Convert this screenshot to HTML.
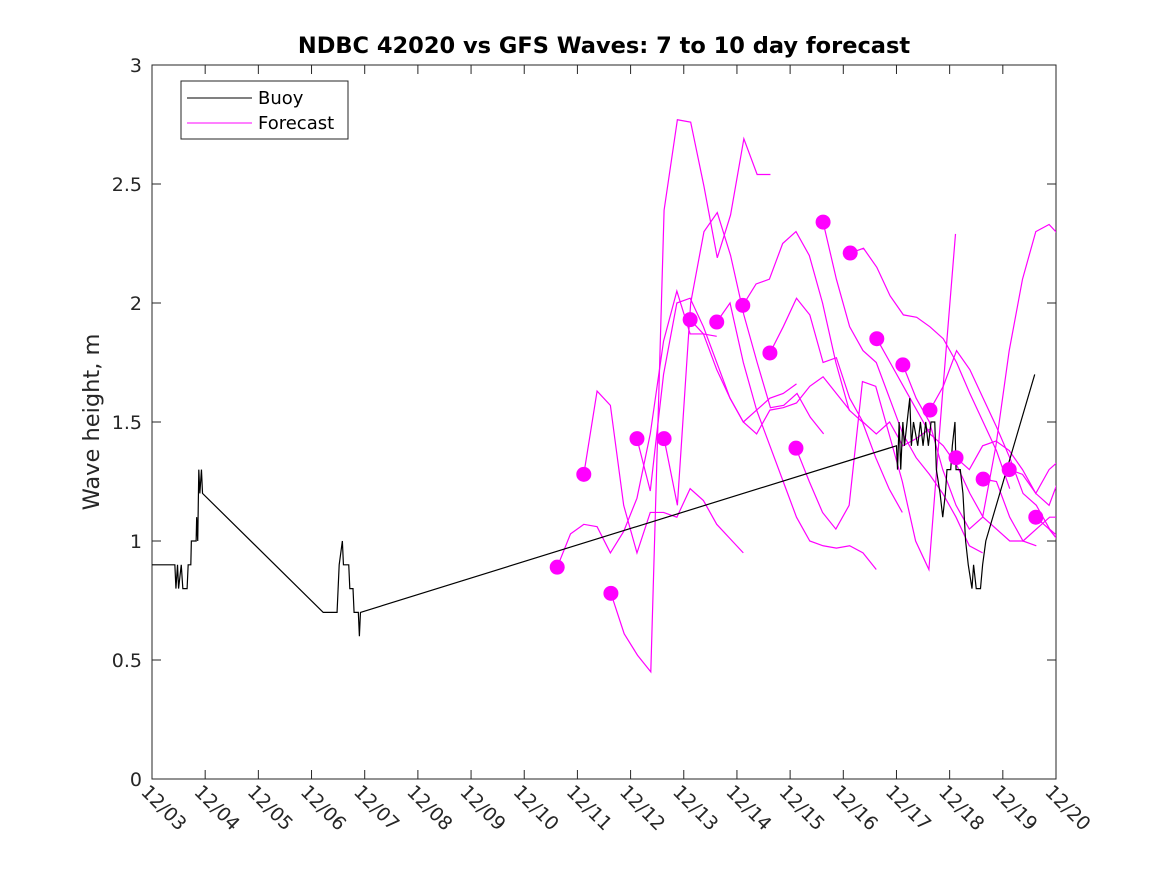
<!DOCTYPE html>
<html><head><meta charset="utf-8"><style>
body{margin:0;background:#fff;}
svg{display:block;font-family:"DejaVu Sans","Liberation Sans",sans-serif;}
</style></head><body>
<svg id="chart" width="1167" height="875">
<rect x="0" y="0" width="1167" height="875" fill="#fff"/>
<defs><clipPath id="plotclip"><rect x="152" y="65" width="904" height="714"/></clipPath></defs>
<text x="604" y="53" text-anchor="middle" font-size="22.5" font-weight="bold" fill="#000">NDBC 42020 vs GFS Waves: 7 to 10 day forecast</text>
<text transform="translate(99,422) rotate(-90)" text-anchor="middle" font-size="22.5" fill="#262626">Wave height, m</text>
<g id="axes"></g>
<g id="series" clip-path="url(#plotclip)"></g>
<g>
<rect x="181" y="81" width="167" height="58" fill="#fff" stroke="#262626" stroke-width="1"/>
<line x1="187" y1="98" x2="252" y2="98" stroke="#000" stroke-width="1"/>
<text x="258" y="104" font-size="18" fill="#000">Buoy</text>
<line x1="187" y1="123" x2="252" y2="123" stroke="#f0f" stroke-width="1"/>
<text x="258" y="129" font-size="18" fill="#000">Forecast</text>
</g>
</svg>
<script>
const xTickLabels=["12/03","12/04","12/05","12/06","12/07","12/08","12/09","12/10","12/11","12/12","12/13","12/14","12/15","12/16","12/17","12/18","12/19","12/20"];
const yTicks=[0,0.5,1,1.5,2,2.5,3];
const buoyDays=[0,0.43,0.45,0.48,0.5,0.55,0.58,0.66,0.68,0.73,0.74,0.83,0.84,0.86,0.88,0.9,0.93,0.95,3.22,3.48,3.5,3.52,3.58,3.6,3.7,3.72,3.78,3.8,3.88,3.9,3.92,14.0,14.02,14.05,14.08,14.12,14.15,14.2,14.25,14.28,14.32,14.4,14.45,14.5,14.55,14.6,14.65,14.72,14.75,14.82,14.87,14.92,14.95,15.02,15.05,15.1,15.12,15.2,15.25,15.3,15.35,15.42,15.45,15.5,15.58,15.62,15.68,16.6];
const buoyVals=[0.9,0.9,0.8,0.9,0.8,0.9,0.8,0.8,0.9,0.9,1.0,1.0,1.1,1.0,1.3,1.2,1.3,1.2,0.7,0.7,0.8,0.9,1.0,0.9,0.9,0.8,0.8,0.7,0.7,0.6,0.7,1.4,1.3,1.5,1.3,1.5,1.4,1.5,1.6,1.4,1.5,1.4,1.5,1.4,1.5,1.4,1.5,1.5,1.3,1.2,1.1,1.2,1.3,1.3,1.4,1.5,1.3,1.3,1.2,1.0,0.9,0.8,0.9,0.8,0.8,0.9,1.0,1.7];
const fcStartDays=[7.62,8.12,8.63,9.12,9.63,10.12,10.62,11.11,11.62,12.11,12.62,13.13,13.63,14.12,14.63,15.12,15.63,16.12,16.62];
const fcStep=0.25;
const fcVals=[
[0.89,1.03,1.07,1.06,0.95,1.04,1.18,1.45,1.84,2.05,1.87,1.87,1.86],
[1.28,1.63,1.57,1.15,0.95,1.12,1.12,1.10,1.22,1.17,1.07,1.01,0.95],
[0.78,0.61,0.52,0.45,2.39,2.77,2.76,2.49,2.19,2.37,2.69,2.54,2.54],
[1.43,1.21,1.7,2.0,2.02,1.9,1.75,1.6,1.5,1.55,1.6,1.62,1.66],
[1.43,1.15,2.0,2.3,2.38,2.2,1.95,1.75,1.56,1.57,1.62,1.52,1.45],
[1.93,1.87,1.72,1.6,1.5,1.45,1.55,1.56,1.58,1.65,1.69,1.62,1.55],
[1.92,2.0,1.75,1.55,1.4,1.25,1.1,1.0,0.98,0.97,0.98,0.95,0.88],
[1.99,2.08,2.1,2.25,2.3,2.2,2.0,1.75,1.55,1.5,1.35,1.22,1.12],
[1.79,1.9,2.02,1.95,1.75,1.77,1.6,1.5,1.45,1.5,1.4,1.43,1.47],
[1.39,1.25,1.12,1.05,1.15,1.67,1.65,1.45,1.25,1.0,0.88,1.6,2.29],
[2.34,2.1,1.9,1.8,1.75,1.6,1.45,1.35,1.28,1.2,1.1,0.98,0.95],
[2.21,2.23,2.15,2.03,1.95,1.94,1.90,1.85,1.75,1.62,1.5,1.38,1.22],
[1.85,1.75,1.65,1.55,1.45,1.4,1.32,1.2,1.1,1.05,1.0,1.0,0.98],
[1.74,1.6,1.5,1.3,1.15,1.05,1.1,1.4,1.8,2.1,2.3,2.33,2.27],
[1.55,1.65,1.8,1.72,1.6,1.48,1.35,1.2,1.15,1.05,1.0,0.98,1.02],
[1.35,1.3,1.4,1.42,1.38,1.3,1.2,1.3,1.35,1.42,1.45,1.38,1.3],
[1.26,1.25,1.1,1.0,1.05,1.1,1.1,1.5,1.6,1.6,1.55,1.58,1.5],
[1.30,1.28,1.2,1.15,1.3,1.45,1.4],
[1.10,1.05,0.98]
];
const X0=152,X1=1056,Y0=779,Y1=65,DAYS=17,YMAX=3;
function xs(d){return X0+(X1-X0)*d/DAYS;}
function ys(v){return Y0-(Y0-Y1)*v/YMAX;}
const NS="http://www.w3.org/2000/svg";
const axes=document.getElementById('axes'),series=document.getElementById('series');
function mk(tag,attrs,parent){const e=document.createElementNS(NS,tag);for(const k in attrs)e.setAttribute(k,attrs[k]);parent.appendChild(e);return e;}
const box=mk('rect',{x:X0,y:Y1,width:X1-X0,height:Y0-Y1,fill:'none',stroke:'#262626','stroke-width':1},axes);


xTickLabels.forEach((lab,i)=>{const x=xs(i);
 const t1=mk('line',{x1:x,y1:Y0,x2:x,y2:Y0-9,stroke:'#262626'},axes);
 
 
 mk('line',{x1:x,y1:Y1,x2:x,y2:Y1+9,stroke:'#262626'},axes);
 const t=mk('text',{x:0,y:0,'font-size':19,fill:'#262626',transform:`translate(${x-12},${Y0+14}) rotate(45)`},axes);
 t.textContent=lab;
 
 
});
yTicks.forEach(v=>{const y=ys(v);
 const t1=mk('line',{x1:X0,y1:y,x2:X0+9,y2:y,stroke:'#262626'},axes);
 
 
 mk('line',{x1:X1,y1:y,x2:X1-9,y2:y,stroke:'#262626'},axes);
 const t=mk('text',{x:X0-10,y:y+7,'font-size':19,'text-anchor':'end',fill:'#262626'},axes);
 t.textContent=String(v);
 
 
});
fcVals.forEach((vals,i)=>{
 const pts=vals.map((v,j)=>xs(fcStartDays[i]+j*fcStep)+','+ys(v)).join(' ');
 const pl=mk('polyline',{points:pts,fill:'none',stroke:'#f0f','stroke-width':1.2},series);
 
 
});
const bpts=buoyDays.map((d,i)=>xs(d)+','+ys(buoyVals[i])).join(' ');
const bl=mk('polyline',{points:bpts,fill:'none',stroke:'#000','stroke-width':1.2},series);


fcVals.forEach((vals,i)=>{
 const c=mk('circle',{cx:xs(fcStartDays[i]),cy:ys(vals[0]),r:7.5,fill:'#f0f'},series);
 
 
});
</script>
</body></html>
